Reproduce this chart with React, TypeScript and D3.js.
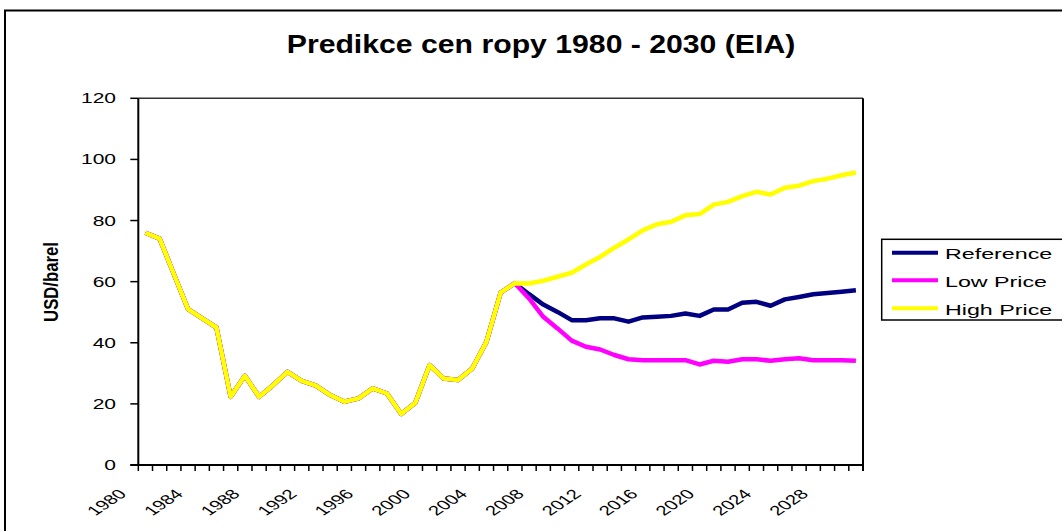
import React from "react";
import * as d3 from "d3";

const years: number[] = d3.range(1980, 2031);
const xTickLabels: number[] = [1980, 1984, 1988, 1992, 1996, 2000, 2004, 2008, 2012, 2016, 2020, 2024, 2028];
const yTicks: number[] = [0, 20, 40, 60, 80, 100, 120];

// Historical prices 1980-2006 (shared by all three series)
const history: number[] = [
  76.0, 74.1, 62.5, 51.0, 48.0, 45.0, 22.3, 29.2, 22.3, 26.2,
  30.5, 27.5, 26.0, 22.9, 20.7, 21.8, 25.1, 23.4, 16.7, 20.4,
  32.7, 28.3, 27.8, 31.6, 40.3, 56.4, 59.5,
];
// Projections 2007-2030
const referenceProj: number[] = [
  55.9, 52.5, 50.1, 47.4, 47.4, 48.0, 48.0, 46.9, 48.3, 48.5,
  48.8, 49.6, 48.8, 50.9, 50.9, 53.1, 53.4, 52.1, 54.2, 55.0,
  55.9, 56.3, 56.7, 57.2,
];
const lowProj: number[] = [
  54.5, 48.5, 44.7, 40.7, 38.7, 37.8, 36.0, 34.6, 34.3, 34.3,
  34.3, 34.3, 32.9, 34.1, 33.8, 34.6, 34.6, 34.1, 34.6, 34.9,
  34.3, 34.3, 34.3, 34.1,
];
const highProj: number[] = [
  59.4, 60.3, 61.6, 62.9, 65.6, 68.1, 71.1, 73.8, 76.8, 78.8,
  79.6, 81.7, 82.1, 85.2, 86.1, 88.0, 89.4, 88.5, 90.7, 91.4,
  92.9, 93.7, 94.8, 95.7,
];
const seriesNames: string[] = ["Reference", "Low Price", "High Price"];
const seriesColors: string[] = ["#000080", "#FF00FF", "#FFFF00"];

const FONT = "'Liberation Sans', Arial, Helvetica, sans-serif";

export default function App() {
  const left = 138.3, right = 863, top = 98.3, bottom = 465;
  const x = d3.scaleBand<number>().domain(years).range([left, right]).padding(0);
  const y = d3.scaleLinear().domain([0, 120]).range([bottom, top]);
  const cx = (yr: number) => (x(yr) as number) + x.bandwidth() / 2;

  const series = [
    history.concat(referenceProj),
    history.concat(lowProj),
    history.concat(highProj),
  ];
  const line = d3
    .line<number>()
    .x((_, i) => cx(years[i]))
    .y((d) => y(d));

  const bw = x.bandwidth();
  const xTickPositions = d3.range(0, years.length + 1).map((i) => left + i * bw);

  const legendX = 881.7, legendY = 239.3;
  const legendRows = [252.7, 280.3, 308.3];

  return (
    <svg
      width={1062}
      height={531}
      style={{ position: "absolute", left: 0, top: 0, background: "#fff" }}
      fontFamily={FONT}
    >
      <rect x={0} y={0} width={1062} height={531} fill="#fff" />
      {/* outer chart frame */}
      <rect x={5} y={10.5} width={1100} height={600} fill="none" stroke="#000" strokeWidth={2} />

      {/* title */}
      <text
        transform={`translate(541,53) scale(1.18,1)`}
        textAnchor="middle"
        fontWeight="bold"
        fontSize={25.6}
        fill="#000"
      >
        Predikce cen ropy 1980 - 2030 (EIA)
      </text>

      {/* plot border top/right */}
      <line x1={left} x2={right} y1={top} y2={top} stroke="#333" strokeWidth={1.5} />
      <line x1={right} x2={right} y1={top} y2={bottom + 6} stroke="#000" strokeWidth={2} />

      {/* y axis */}
      <line x1={left} x2={left} y1={top} y2={bottom} stroke="#000" strokeWidth={2} />
      {yTicks.map((t) => (
        <g key={t}>
          <line x1={left - 8} x2={left} y1={y(t)} y2={y(t)} stroke="#000" strokeWidth={1.5} />
          <text
            transform={`translate(116,${y(t) + 5}) scale(1.5,1)`}
            textAnchor="end"
            fontSize={14}
            fill="#000"
          >
            {t}
          </text>
        </g>
      ))}

      {/* x axis */}
      <line x1={left - 8} x2={right} y1={bottom} y2={bottom} stroke="#000" strokeWidth={2} />
      {xTickPositions.map((p, i) => (
        <line key={i} x1={p} x2={p} y1={bottom} y2={bottom + 6} stroke="#000" strokeWidth={1.5} />
      ))}
      {xTickLabels.map((yr) => (
        <text
          key={yr}
          transform={`translate(${cx(yr) - 18},495) scale(1.5,1) rotate(-45)`}
          textAnchor="end"
          fontSize={13.5}
          fill="#000"
        >
          {yr}
        </text>
      ))}

      {/* y axis title */}
      <text
        transform={`translate(58,282) scale(1.25,1) rotate(-90)`}
        textAnchor="middle"
        fontWeight="bold"
        fontSize={16.7}
        fill="#000"
      >
        USD/barel
      </text>

      {/* series */}
      {series.map((s, k) => (
        <path
          key={k}
          d={line(s) as string}
          fill="none"
          stroke={seriesColors[k]}
          strokeWidth={4.5}
          strokeLinejoin="round"
          strokeLinecap="butt"
        />
      ))}

      {/* legend */}
      <rect x={legendX} y={legendY} width={200} height={80.7} fill="#fff" stroke="#000" strokeWidth={1.5} />
      {seriesNames.map((n, k) => (
        <g key={n}>
          <line
            x1={892}
            x2={938}
            y1={legendRows[k]}
            y2={legendRows[k]}
            stroke={seriesColors[k]}
            strokeWidth={4}
          />
          <text
            transform={`translate(945,${legendRows[k] + 6.6}) scale(1.5,1)`}
            fontSize={15.5}
            fill="#000"
          >
            {n}
          </text>
        </g>
      ))}
    </svg>
  );
}
